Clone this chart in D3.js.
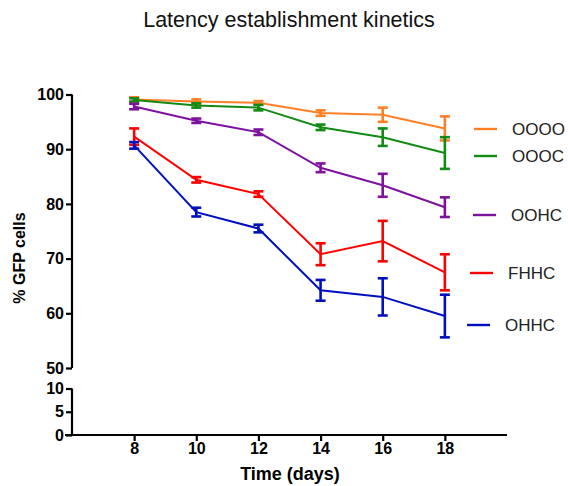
<!DOCTYPE html>
<html>
<head>
<meta charset="utf-8">
<script src="https://cdn.jsdelivr.net/npm/d3@7"></script>
<style>
  body { margin: 0; background: #fff; }
  text { font-family: "Liberation Sans", Arial, sans-serif; }
</style>
</head>
<body>
<div id="chart"></div>
<script>
// data
const days = [8, 10, 12, 14, 16, 18];
const seriesNames = ["OOOO", "OOOC", "OOHC", "FHHC", "OHHC"];
const seriesColors = ["#ff7f27", "#138a13", "#7d129f", "#ff0000", "#0010c0"];
const meanOOOO = [99.1, 98.7, 98.5, 96.6, 96.3, 93.8];
const meanOOOC = [99.0, 98.0, 97.6, 94.0, 92.2, 89.3];
const meanOOHC = [97.8, 95.2, 93.1, 86.6, 83.4, 79.4];
const meanFHHC = [92.3, 84.4, 81.8, 70.8, 73.2, 67.5];
const meanOHHC = [90.7, 78.5, 75.5, 64.2, 63.0, 59.5];
const errOOOO = [0.4, 0.4, 0.3, 0.5, 1.3, 2.2];
const errOOOC = [0.3, 0.4, 0.5, 0.5, 1.6, 2.9];
const errOOHC = [0.5, 0.4, 0.5, 0.8, 2.1, 1.8];
const errFHHC = [1.5, 0.5, 0.5, 2.0, 3.7, 3.3];
const errOHHC = [0.6, 0.8, 0.7, 1.9, 3.4, 3.9];
const yTopTicks = [50, 60, 70, 80, 90, 100];
const yBotTicks = [0, 5, 10];

const means = [meanOOOO, meanOOOC, meanOOHC, meanFHHC, meanOHHC];
const errs = [errOOOO, errOOOC, errOOHC, errFHHC, errOHHC];

const W = 568, H = 486;
const svg = d3.select("#chart").append("svg")
  .attr("width", W).attr("height", H);

const axisX = 72;
const x = d3.scaleLinear().domain([6, 20]).range([axisX, 507]);
const yTop = d3.scaleLinear().domain([50, 100]).range([368, 94.5]);
const yBot = d3.scaleLinear().domain([0, 10]).range([435, 388.5]);

// y axis, top segment
const gTop = svg.append("g")
  .attr("transform", `translate(${axisX},0)`)
  .call(d3.axisLeft(yTop).tickValues(yTopTicks).tickSize(6).tickPadding(2));
// y axis, bottom segment
const gBot = svg.append("g")
  .attr("transform", `translate(${axisX},0)`)
  .call(d3.axisLeft(yBot).tickValues(yBotTicks).tickSize(6).tickPadding(2));
// x axis
const gX = svg.append("g")
  .attr("transform", `translate(0,${yBot(0)})`)
  .call(d3.axisBottom(x).tickValues(days).tickSize(6).tickPadding(2));

[gTop, gBot, gX].forEach(g => {
  g.select(".domain").attr("stroke", "#000").attr("stroke-width", 2.2);
  g.selectAll(".tick line").attr("stroke", "#000").attr("stroke-width", 2.2);
  g.selectAll(".tick text")
    .attr("fill", "#000")
    .style("font-size", "16px")
    .style("font-weight", "bold");
});
// trim domain paths so the two y segments look like GraphPad
gTop.select(".domain").attr("d", `M0,${yTop(50)}V${yTop(100)}`);
gBot.select(".domain").attr("d", `M0,${yBot(0)}V${yBot(10)}`);
gX.select(".domain").attr("d", `M${axisX - 7},0H${x(20)}`);

// lines and error bars
const line = d3.line().x((d, i) => x(days[i])).y(d => yTop(d));
const capW = 5;

seriesNames.forEach((name, s) => {
  const color = seriesColors[s];
  const g = svg.append("g");
  g.append("path")
    .datum(means[s])
    .attr("d", line)
    .attr("fill", "none")
    .attr("stroke", color)
    .attr("stroke-width", 2);

  const eb = g.selectAll(".eb")
    .data(means[s].map((m, i) => ({ x: days[i], m, e: errs[s][i] })))
    .join("g")
    .attr("stroke", color)
    .attr("stroke-width", 2.6);
  eb.append("line")
    .attr("x1", d => x(d.x)).attr("x2", d => x(d.x))
    .attr("y1", d => yTop(d.m + d.e)).attr("y2", d => yTop(d.m - d.e));
  eb.append("line")
    .attr("x1", d => x(d.x) - capW).attr("x2", d => x(d.x) + capW)
    .attr("y1", d => yTop(d.m + d.e)).attr("y2", d => yTop(d.m + d.e));
  eb.append("line")
    .attr("x1", d => x(d.x) - capW).attr("x2", d => x(d.x) + capW)
    .attr("y1", d => yTop(d.m - d.e)).attr("y2", d => yTop(d.m - d.e));
});

// legend
const legendY = [129, 156, 215, 273, 325];
const legendX = [474, 474, 473, 470, 467];
const legend = svg.append("g");
seriesNames.forEach((name, s) => {
  legend.append("line")
    .attr("x1", legendX[s]).attr("x2", legendX[s] + 23)
    .attr("y1", legendY[s]).attr("y2", legendY[s])
    .attr("stroke", seriesColors[s])
    .attr("stroke-width", 2.4);
  legend.append("text")
    .attr("x", legendX[s] + 38)
    .attr("y", legendY[s])
    .attr("dy", "0.36em")
    .attr("fill", "#222")
    .style("font-size", "17px")
    .text(name);
});

// title and axis labels
svg.append("text")
  .attr("x", 289).attr("y", 27)
  .attr("text-anchor", "middle")
  .attr("fill", "#111")
  .style("font-size", "21.5px")
  .text("Latency establishment kinetics");

svg.append("text")
  .attr("transform", "translate(25,258) rotate(-90)")
  .attr("text-anchor", "middle")
  .attr("fill", "#000")
  .style("font-size", "16px")
  .style("font-weight", "bold")
  .text("% GFP cells");

svg.append("text")
  .attr("x", 290).attr("y", 480)
  .attr("text-anchor", "middle")
  .attr("fill", "#000")
  .style("font-size", "18px")
  .style("font-weight", "bold")
  .text("Time (days)");
</script>
</body>
</html>
